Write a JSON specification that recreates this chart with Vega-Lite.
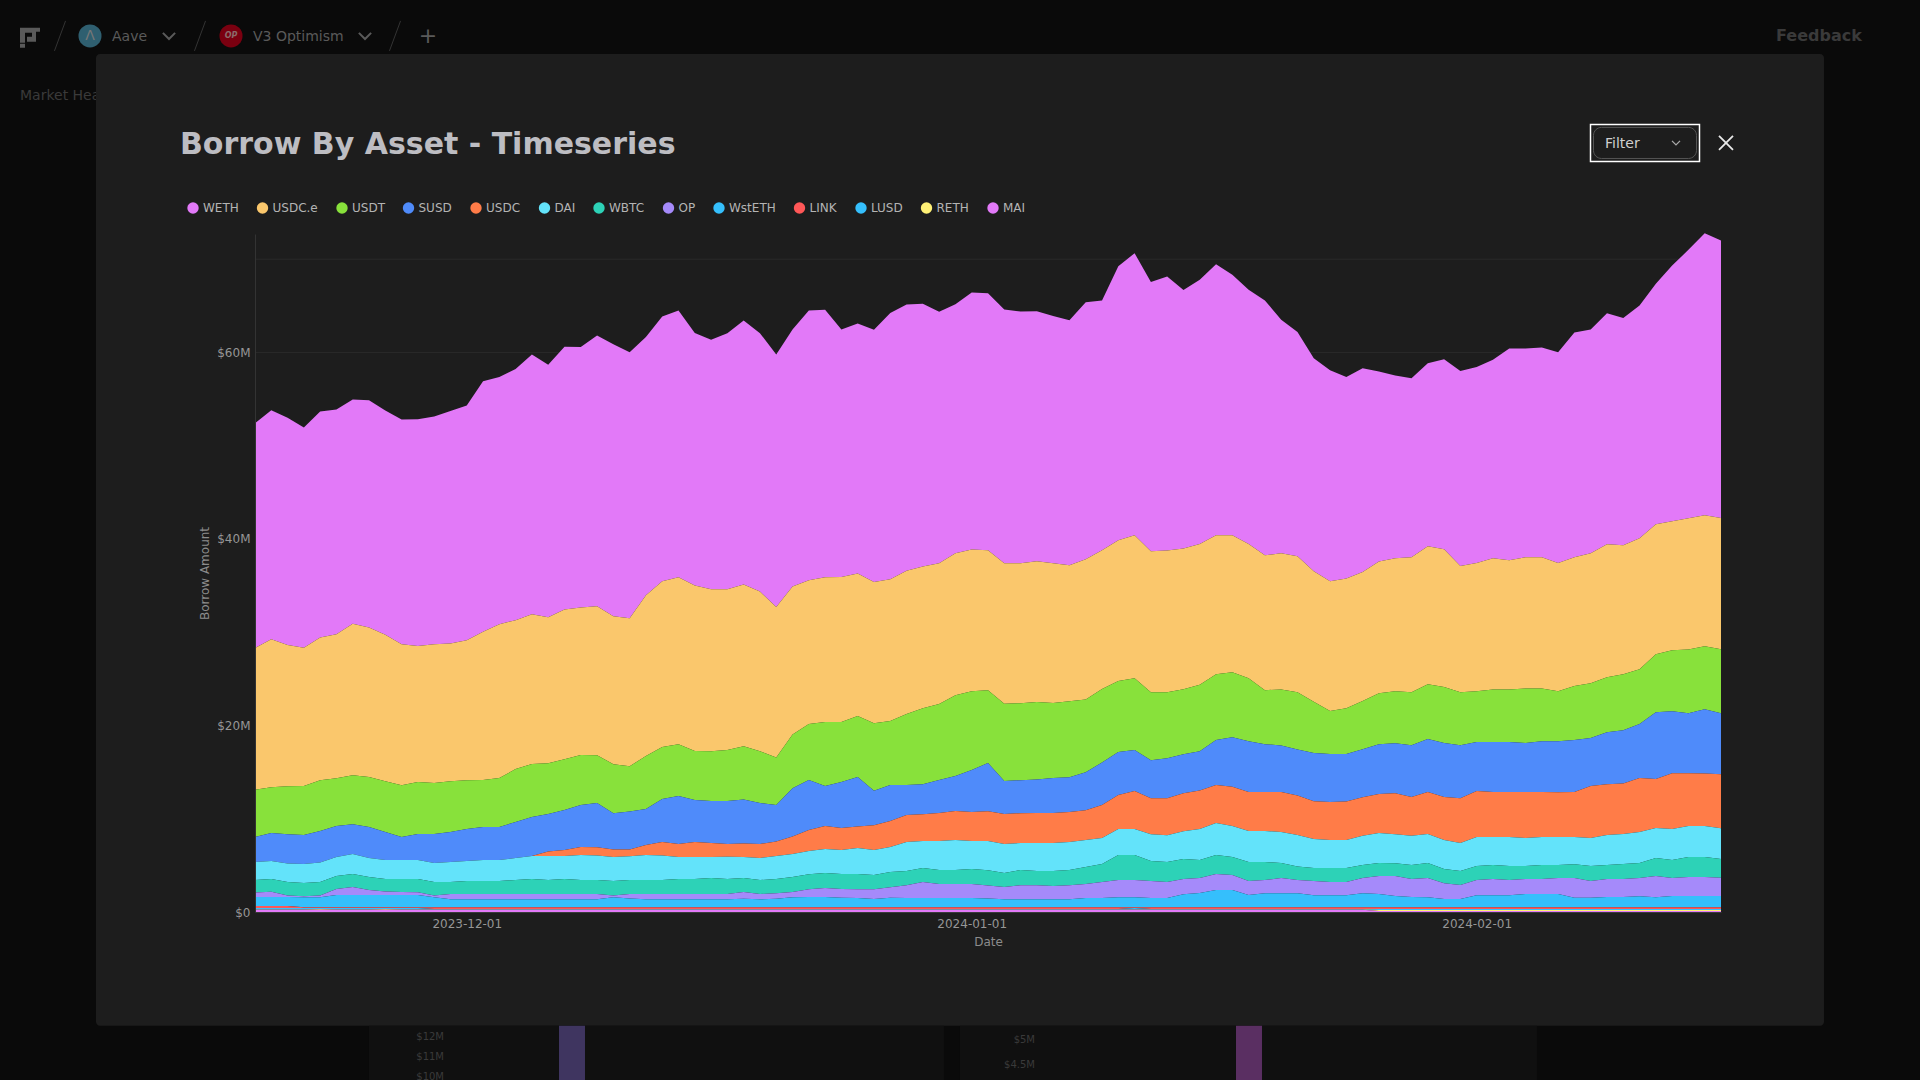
{"$schema":"https://vega.github.io/schema/vega-lite/v6.json","width":1466,"height":678,"autosize":{"type":"none"},"padding":{"left":255,"top":234,"right":199,"bottom":168},"background":"#0a0a0a",
"title":{"text":"Borrow By Asset - Timeseries","anchor":"start","frame":"group","dx":-75,"offset":-141,"fontSize":30,"font":"DejaVu Sans","fontWeight":"bold","color":"#bdbdc2"},
"config":{"view":{"stroke":null},"font":"DejaVu Sans"},
"layer":[
{"data":{"values":[{}]},"mark":{"type":"text","align":"left","baseline":"middle","fontSize":14,"color":"#5a5a5a"},"encoding":{"x":{"datum":1699507095682,"type":"temporal"},"y":{"datum":93.85,"type":"quantitative"},"text":{"value":"Aave"}}},
{"data":{"values":[{}]},"mark":{"type":"text","align":"left","baseline":"middle","fontSize":14,"color":"#5a5a5a"},"encoding":{"x":{"datum":1700254991548,"type":"temporal"},"y":{"datum":93.85,"type":"quantitative"},"text":{"value":"V3 Optimism"}}},
{"data":{"values":[{}]},"mark":{"type":"text","align":"left","baseline":"middle","fontSize":16,"fontWeight":"bold","color":"#3a3a3a"},"encoding":{"x":{"datum":1708333327746,"type":"temporal"},"y":{"datum":93.94,"type":"quantitative"},"text":{"value":"Feedback"}}},
{"data":{"values":[{}]},"mark":{"type":"text","align":"left","baseline":"middle","fontSize":14,"color":"#3a3a3a"},"encoding":{"x":{"datum":1699019106890,"type":"temporal"},"y":{"datum":87.5,"type":"quantitative"},"text":{"value":"Market Health"}}},
{"data":{"values":[{}]},"mark":{"type":"text","align":"center","baseline":"middle","fontSize":22,"color":"#5a5a5a"},"encoding":{"x":{"datum":1701183231098,"type":"temporal"},"y":{"datum":93.94,"type":"quantitative"},"text":{"value":"+"}}},
{"data":{"values":[{}]},"mark":{"type":"point","filled":true,"size":400,"shape":"M-1,-1H1V-0.6H0.6V0.4H-0.3V-0.1H0.2V-0.5H-0.5V0.5H-1Z M-1,0.6H-0.5V1H-1Z","color":"#5a5a5a","opacity":1},"encoding":{"x":{"datum":1699072149150,"type":"temporal"},"y":{"datum":93.73,"type":"quantitative"}}},
{"data":{"values":[{}]},"mark":{"type":"point","filled":true,"size":530,"shape":"circle","color":"#2f5f70","opacity":1},"encoding":{"x":{"datum":1699390402710,"type":"temporal"},"y":{"datum":93.94,"type":"quantitative"}}},
{"data":{"values":[{}]},"mark":{"type":"point","filled":true,"size":530,"shape":"circle","color":"#7a0010","opacity":1},"encoding":{"x":{"datum":1700138298576,"type":"temporal"},"y":{"datum":93.94,"type":"quantitative"}}},
{"data":{"values":[{}]},"mark":{"type":"text","align":"center","baseline":"middle","fontSize":14,"color":"#777777"},"encoding":{"x":{"datum":1699390402710,"type":"temporal"},"y":{"datum":93.94,"type":"quantitative"},"text":{"value":"Λ"}}},
{"data":{"values":[{}]},"mark":{"type":"text","align":"center","baseline":"middle","fontSize":8,"fontStyle":"italic","fontWeight":"bold","color":"#8a6a6a"},"encoding":{"x":{"datum":1700138298576,"type":"temporal"},"y":{"datum":93.94,"type":"quantitative"},"text":{"value":"OP"}}},
{"data":{"values":[{"t":1699809436564},{"t":1700849064860}]},"mark":{"type":"point","filled":false,"size":150,"strokeWidth":2,"shape":"M-1,-0.5L0,0.5L1,-0.5","color":"#5a5a5a","opacity":1},"encoding":{"x":{"field":"t","type":"temporal"},"y":{"datum":93.94,"type":"quantitative"}}},
{"data":{"values":[{"t":1699231275930},{"t":1699973867570},{"t":1701008191640}]},"mark":{"type":"point","filled":false,"size":900,"strokeWidth":1,"shape":"M0.37,-1L-0.37,1","color":"#333333","opacity":1},"encoding":{"x":{"field":"t","type":"temporal"},"y":{"datum":93.94,"type":"quantitative"}}},
{"data":{"values":[{}]},"mark":{"type":"rect","color":"#1d1d1d","cornerRadius":4},"encoding":{"x":{"datum":1699422228066,"type":"temporal"},"x2":{"datum":1708587930594},"y":{"datum":92.0,"type":"quantitative"},"y2":{"datum":-12.2}}},
{"data":{"values":[{}]},"mark":{"type":"rect","color":"#101010"},"encoding":{"x":{"datum":1700870281764,"type":"temporal"},"x2":{"datum":1703920211714},"y":{"datum":-12.2,"type":"quantitative"},"y2":{"datum":-19}}},
{"data":{"values":[{}]},"mark":{"type":"rect","color":"#101010"},"encoding":{"x":{"datum":1704005079330,"type":"temporal"},"x2":{"datum":1707065617732},"y":{"datum":-12.2,"type":"quantitative"},"y2":{"datum":-19}}},
{"data":{"values":[{}]},"mark":{"type":"rect","color":"#3f3560"},"encoding":{"x":{"datum":1701878084704,"type":"temporal"},"x2":{"datum":1702015994580},"y":{"datum":-12.2,"type":"quantitative"},"y2":{"datum":-19}}},
{"data":{"values":[{}]},"mark":{"type":"rect","color":"#5a2f62"},"encoding":{"x":{"datum":1705469045706,"type":"temporal"},"x2":{"datum":1705606955582},"y":{"datum":-12.2,"type":"quantitative"},"y2":{"datum":-19}}},
{"data":{"values":[{}]},"mark":{"type":"text","align":"right","baseline":"middle","fontSize":10,"color":"#3a3a3a"},"encoding":{"x":{"datum":1701268098714,"type":"temporal"},"y":{"datum":-13.4,"type":"quantitative"},"text":{"value":"$12M"}}},
{"data":{"values":[{}]},"mark":{"type":"text","align":"right","baseline":"middle","fontSize":10,"color":"#3a3a3a"},"encoding":{"x":{"datum":1701268098714,"type":"temporal"},"y":{"datum":-15.55,"type":"quantitative"},"text":{"value":"$11M"}}},
{"data":{"values":[{}]},"mark":{"type":"text","align":"right","baseline":"middle","fontSize":10,"color":"#3a3a3a"},"encoding":{"x":{"datum":1701268098714,"type":"temporal"},"y":{"datum":-17.69,"type":"quantitative"},"text":{"value":"$10M"}}},
{"data":{"values":[{}]},"mark":{"type":"text","align":"right","baseline":"middle","fontSize":10,"color":"#3a3a3a"},"encoding":{"x":{"datum":1704402896280,"type":"temporal"},"y":{"datum":-13.73,"type":"quantitative"},"text":{"value":"$5M"}}},
{"data":{"values":[{}]},"mark":{"type":"text","align":"right","baseline":"middle","fontSize":10,"color":"#3a3a3a"},"encoding":{"x":{"datum":1704402896280,"type":"temporal"},"y":{"datum":-16.41,"type":"quantitative"},"text":{"value":"$4.5M"}}},
{"data":{"values":[{"v":10},{"v":20},{"v":30},{"v":40},{"v":50},{"v":60},{"v":70}]},"mark":{"type":"rule","color":"#2a2a2a","strokeWidth":1},"encoding":{"y":{"field":"v","type":"quantitative"}}},
{"data":{"values":[
{"d":"2023-11-18","WETH":24.11,"USDCe":15.21,"USDT":5.07,"SUSD":2.68,"USDC":0,"DAI":1.93,"WBTC":1.32,"OP":0.5,"WstETH":0.96,"LINK":0.22,"LUSD":0.15,"RETH":0.02,"MAI":0.25},
{"d":"2023-11-19","WETH":24.54,"USDCe":15.86,"USDT":4.93,"SUSD":3.0,"USDC":0,"DAI":1.93,"WBTC":1.36,"OP":0.57,"WstETH":0.96,"LINK":0.22,"LUSD":0.15,"RETH":0.02,"MAI":0.25},
{"d":"2023-11-20","WETH":24.36,"USDCe":15.14,"USDT":5.14,"SUSD":3.14,"USDC":0,"DAI":2.0,"WBTC":1.43,"OP":0.18,"WstETH":0.96,"LINK":0.22,"LUSD":0.15,"RETH":0.02,"MAI":0.25},
{"d":"2023-11-21","WETH":23.61,"USDCe":14.82,"USDT":5.25,"SUSD":3.11,"USDC":0,"DAI":2.04,"WBTC":1.43,"OP":0.11,"WstETH":1.07,"LINK":0.08,"LUSD":0.15,"RETH":0.02,"MAI":0.25},
{"d":"2023-11-22","WETH":24.25,"USDCe":15.29,"USDT":5.46,"SUSD":3.36,"USDC":0,"DAI":2.11,"WBTC":1.43,"OP":0.21,"WstETH":1.07,"LINK":0.08,"LUSD":0.09,"RETH":0.08,"MAI":0.25},
{"d":"2023-11-23","WETH":24.11,"USDCe":15.43,"USDT":5.14,"SUSD":3.32,"USDC":0,"DAI":2.04,"WBTC":1.39,"OP":0.64,"WstETH":1.32,"LINK":0.08,"LUSD":0.15,"RETH":0.02,"MAI":0.25},
{"d":"2023-11-24","WETH":24.04,"USDCe":16.25,"USDT":5.25,"SUSD":3.21,"USDC":0,"DAI":2.14,"WBTC":1.39,"OP":0.86,"WstETH":1.32,"LINK":0.08,"LUSD":0.15,"RETH":0.02,"MAI":0.25},
{"d":"2023-11-25","WETH":24.36,"USDCe":16.04,"USDT":5.36,"SUSD":3.32,"USDC":0,"DAI":2.04,"WBTC":1.39,"OP":0.54,"WstETH":1.32,"LINK":0.08,"LUSD":0.15,"RETH":0.02,"MAI":0.25},
{"d":"2023-11-26","WETH":24.04,"USDCe":15.71,"USDT":5.46,"SUSD":3.0,"USDC":0,"DAI":2.04,"WBTC":1.32,"OP":0.39,"WstETH":1.32,"LINK":0.08,"LUSD":0.09,"RETH":0.08,"MAI":0.25},
{"d":"2023-11-27","WETH":24.11,"USDCe":15.11,"USDT":5.57,"SUSD":2.46,"USDC":0,"DAI":2.04,"WBTC":1.39,"OP":0.32,"WstETH":1.32,"LINK":0.08,"LUSD":0.15,"RETH":0.02,"MAI":0.25},
{"d":"2023-11-28","WETH":24.32,"USDCe":14.57,"USDT":5.57,"SUSD":2.79,"USDC":0,"DAI":2.04,"WBTC":1.43,"OP":0.29,"WstETH":1.32,"LINK":0.08,"LUSD":0.15,"RETH":0.02,"MAI":0.25},
{"d":"2023-11-29","WETH":24.43,"USDCe":14.89,"USDT":5.46,"SUSD":3.11,"USDC":0,"DAI":2.04,"WBTC":1.43,"OP":0.21,"WstETH":1.07,"LINK":0.18,"LUSD":0.05,"RETH":0.02,"MAI":0.25},
{"d":"2023-11-30","WETH":24.93,"USDCe":14.75,"USDT":5.46,"SUSD":3.21,"USDC":0,"DAI":2.14,"WBTC":1.29,"OP":0.57,"WstETH":0.86,"LINK":0.18,"LUSD":0.05,"RETH":0.02,"MAI":0.25},
{"d":"2023-12-01","WETH":25.18,"USDCe":15.0,"USDT":5.25,"SUSD":3.43,"USDC":0,"DAI":2.14,"WBTC":1.39,"OP":0.57,"WstETH":0.86,"LINK":0.18,"LUSD":0.05,"RETH":0.02,"MAI":0.25},
{"d":"2023-12-02","WETH":26.86,"USDCe":15.89,"USDT":5.04,"SUSD":3.54,"USDC":0,"DAI":2.25,"WBTC":1.39,"OP":0.57,"WstETH":0.86,"LINK":0.18,"LUSD":0.05,"RETH":0.02,"MAI":0.25},
{"d":"2023-12-03","WETH":26.5,"USDCe":16.5,"USDT":5.25,"SUSD":3.54,"USDC":0,"DAI":2.25,"WBTC":1.39,"OP":0.57,"WstETH":0.86,"LINK":0.18,"LUSD":0.05,"RETH":0.02,"MAI":0.25},
{"d":"2023-12-04","WETH":26.93,"USDCe":15.96,"USDT":5.68,"SUSD":3.86,"USDC":0,"DAI":2.36,"WBTC":1.5,"OP":0.57,"WstETH":0.86,"LINK":0.18,"LUSD":0.05,"RETH":0.02,"MAI":0.25},
{"d":"2023-12-05","WETH":27.86,"USDCe":16.07,"USDT":5.68,"SUSD":4.18,"USDC":0,"DAI":2.46,"WBTC":1.61,"OP":0.57,"WstETH":0.86,"LINK":0.18,"LUSD":0.05,"RETH":0.02,"MAI":0.25},
{"d":"2023-12-06","WETH":27.07,"USDCe":15.64,"USDT":5.46,"SUSD":4.0,"USDC":0.5,"DAI":2.57,"WBTC":1.5,"OP":0.57,"WstETH":0.86,"LINK":0.18,"LUSD":0.05,"RETH":0.02,"MAI":0.25},
{"d":"2023-12-07","WETH":28.18,"USDCe":16.04,"USDT":5.46,"SUSD":4.29,"USDC":0.64,"DAI":2.46,"WBTC":1.61,"OP":0.57,"WstETH":0.86,"LINK":0.18,"LUSD":0.05,"RETH":0.02,"MAI":0.25},
{"d":"2023-12-08","WETH":27.93,"USDCe":15.82,"USDT":5.36,"SUSD":4.5,"USDC":0.86,"DAI":2.68,"WBTC":1.5,"OP":0.57,"WstETH":0.86,"LINK":0.18,"LUSD":0.05,"RETH":0.02,"MAI":0.25},
{"d":"2023-12-09","WETH":29.04,"USDCe":15.96,"USDT":5.14,"SUSD":4.75,"USDC":0.86,"DAI":2.64,"WBTC":1.5,"OP":0.57,"WstETH":0.86,"LINK":0.18,"LUSD":0.05,"RETH":0.02,"MAI":0.25},
{"d":"2023-12-10","WETH":29.18,"USDCe":15.86,"USDT":5.25,"SUSD":3.89,"USDC":0.82,"DAI":2.57,"WBTC":1.54,"OP":0.21,"WstETH":1.07,"LINK":0.18,"LUSD":0.05,"RETH":0.02,"MAI":0.25},
{"d":"2023-12-11","WETH":28.54,"USDCe":15.86,"USDT":4.86,"SUSD":4.07,"USDC":0.71,"DAI":2.57,"WBTC":1.5,"OP":0.46,"WstETH":0.96,"LINK":0.18,"LUSD":0.05,"RETH":0.02,"MAI":0.25},
{"d":"2023-12-12","WETH":27.68,"USDCe":17.25,"USDT":5.68,"SUSD":3.86,"USDC":1.07,"DAI":2.68,"WBTC":1.5,"OP":0.57,"WstETH":0.86,"LINK":0.18,"LUSD":0.05,"RETH":0.02,"MAI":0.25},
{"d":"2023-12-13","WETH":28.39,"USDCe":17.79,"USDT":5.57,"SUSD":4.61,"USDC":1.43,"DAI":2.64,"WBTC":1.5,"OP":0.57,"WstETH":0.86,"LINK":0.18,"LUSD":0.05,"RETH":0.02,"MAI":0.25},
{"d":"2023-12-14","WETH":28.61,"USDCe":17.89,"USDT":5.57,"SUSD":5.14,"USDC":1.39,"DAI":2.36,"WBTC":1.61,"OP":0.57,"WstETH":0.86,"LINK":0.18,"LUSD":0.05,"RETH":0.02,"MAI":0.25},
{"d":"2023-12-15","WETH":27.07,"USDCe":17.75,"USDT":5.25,"SUSD":4.5,"USDC":1.61,"DAI":2.36,"WBTC":1.61,"OP":0.57,"WstETH":0.86,"LINK":0.18,"LUSD":0.05,"RETH":0.02,"MAI":0.25},
{"d":"2023-12-16","WETH":26.75,"USDCe":17.36,"USDT":5.36,"SUSD":4.5,"USDC":1.5,"DAI":2.25,"WBTC":1.71,"OP":0.57,"WstETH":0.86,"LINK":0.18,"LUSD":0.05,"RETH":0.02,"MAI":0.25},
{"d":"2023-12-17","WETH":27.46,"USDCe":17.25,"USDT":5.46,"SUSD":4.61,"USDC":1.36,"DAI":2.39,"WBTC":1.61,"OP":0.57,"WstETH":0.86,"LINK":0.18,"LUSD":0.05,"RETH":0.02,"MAI":0.25},
{"d":"2023-12-18","WETH":28.29,"USDCe":17.36,"USDT":5.71,"SUSD":4.71,"USDC":1.46,"DAI":2.25,"WBTC":1.5,"OP":0.71,"WstETH":0.93,"LINK":0.18,"LUSD":0.05,"RETH":0.02,"MAI":0.25},
{"d":"2023-12-19","WETH":27.71,"USDCe":17.11,"USDT":5.57,"SUSD":4.39,"USDC":1.5,"DAI":2.36,"WBTC":1.5,"OP":0.57,"WstETH":0.86,"LINK":0.18,"LUSD":0.05,"RETH":0.02,"MAI":0.25},
{"d":"2023-12-20","WETH":27.07,"USDCe":16.14,"USDT":5.11,"SUSD":3.89,"USDC":1.57,"DAI":2.46,"WBTC":1.54,"OP":0.57,"WstETH":0.93,"LINK":0.18,"LUSD":0.05,"RETH":0.02,"MAI":0.25},
{"d":"2023-12-21","WETH":27.57,"USDCe":15.86,"USDT":5.75,"SUSD":5.18,"USDC":1.89,"DAI":2.46,"WBTC":1.61,"OP":0.57,"WstETH":1.07,"LINK":0.18,"LUSD":0.05,"RETH":0.02,"MAI":0.25},
{"d":"2023-12-22","WETH":28.93,"USDCe":15.43,"USDT":6.0,"SUSD":5.36,"USDC":2.25,"DAI":2.5,"WBTC":1.61,"OP":0.82,"WstETH":1.11,"LINK":0.18,"LUSD":0.05,"RETH":0.02,"MAI":0.25},
{"d":"2023-12-23","WETH":28.68,"USDCe":15.54,"USDT":6.86,"SUSD":4.29,"USDC":2.46,"DAI":2.57,"WBTC":1.61,"OP":0.96,"WstETH":1.11,"LINK":0.18,"LUSD":0.05,"RETH":0.02,"MAI":0.25},
{"d":"2023-12-24","WETH":26.54,"USDCe":15.54,"USDT":6.43,"SUSD":4.93,"USDC":2.36,"DAI":2.57,"WBTC":1.61,"OP":0.93,"WstETH":1.04,"LINK":0.18,"LUSD":0.05,"RETH":0.02,"MAI":0.25},
{"d":"2023-12-25","WETH":26.79,"USDCe":15.29,"USDT":6.54,"SUSD":5.29,"USDC":2.32,"DAI":2.79,"WBTC":1.64,"OP":0.93,"WstETH":1.0,"LINK":0.18,"LUSD":0.05,"RETH":0.02,"MAI":0.25},
{"d":"2023-12-26","WETH":27.04,"USDCe":15.14,"USDT":7.25,"SUSD":3.71,"USDC":2.64,"DAI":2.68,"WBTC":1.54,"OP":1.04,"WstETH":0.89,"LINK":0.18,"LUSD":0.05,"RETH":0.02,"MAI":0.25},
{"d":"2023-12-27","WETH":28.54,"USDCe":15.21,"USDT":6.86,"SUSD":3.86,"USDC":2.79,"DAI":2.68,"WBTC":1.64,"OP":1.11,"WstETH":1.04,"LINK":0.18,"LUSD":0.05,"RETH":0.02,"MAI":0.25},
{"d":"2023-12-28","WETH":28.57,"USDCe":15.36,"USDT":7.61,"SUSD":3.21,"USDC":2.89,"DAI":3.11,"WBTC":1.54,"OP":1.36,"WstETH":1.0,"LINK":0.18,"LUSD":0.05,"RETH":0.02,"MAI":0.25},
{"d":"2023-12-29","WETH":28.18,"USDCe":15.21,"USDT":8.14,"SUSD":3.21,"USDC":2.89,"DAI":2.89,"WBTC":1.5,"OP":1.71,"WstETH":1.0,"LINK":0.18,"LUSD":0.05,"RETH":0.02,"MAI":0.25},
{"d":"2023-12-30","WETH":26.96,"USDCe":15.11,"USDT":8.14,"SUSD":3.54,"USDC":3.0,"DAI":3.11,"WBTC":1.5,"OP":1.5,"WstETH":1.0,"LINK":0.18,"LUSD":0.05,"RETH":0.02,"MAI":0.25},
{"d":"2023-12-31","WETH":26.71,"USDCe":15.21,"USDT":8.68,"SUSD":3.75,"USDC":3.11,"DAI":3.21,"WBTC":1.5,"OP":1.5,"WstETH":1.0,"LINK":0.18,"LUSD":0.05,"RETH":0.02,"MAI":0.25},
{"d":"2024-01-01","WETH":27.57,"USDCe":15.18,"USDT":8.46,"SUSD":4.5,"USDC":3.11,"DAI":3.0,"WBTC":1.61,"OP":1.5,"WstETH":1.0,"LINK":0.18,"LUSD":0.05,"RETH":0.02,"MAI":0.25},
{"d":"2024-01-02","WETH":27.57,"USDCe":15.0,"USDT":7.79,"SUSD":5.18,"USDC":3.21,"DAI":3.11,"WBTC":1.64,"OP":1.39,"WstETH":0.96,"LINK":0.18,"LUSD":0.05,"RETH":0.02,"MAI":0.25},
{"d":"2024-01-03","WETH":27.21,"USDCe":15.07,"USDT":8.29,"SUSD":3.54,"USDC":3.21,"DAI":3.11,"WBTC":1.5,"OP":1.32,"WstETH":0.86,"LINK":0.18,"LUSD":0.05,"RETH":0.02,"MAI":0.25},
{"d":"2024-01-04","WETH":27.0,"USDCe":15.0,"USDT":8.25,"SUSD":3.54,"USDC":3.21,"DAI":2.89,"WBTC":1.64,"OP":1.5,"WstETH":0.86,"LINK":0.18,"LUSD":0.05,"RETH":0.02,"MAI":0.25},
{"d":"2024-01-05","WETH":26.79,"USDCe":15.11,"USDT":8.29,"SUSD":3.61,"USDC":3.21,"DAI":3.0,"WBTC":1.54,"OP":1.5,"WstETH":0.86,"LINK":0.18,"LUSD":0.05,"RETH":0.02,"MAI":0.25},
{"d":"2024-01-06","WETH":26.5,"USDCe":15.0,"USDT":8.04,"SUSD":3.75,"USDC":3.21,"DAI":3.0,"WBTC":1.61,"OP":1.43,"WstETH":0.86,"LINK":0.18,"LUSD":0.05,"RETH":0.02,"MAI":0.25},
{"d":"2024-01-07","WETH":26.29,"USDCe":14.57,"USDT":8.14,"SUSD":3.75,"USDC":3.21,"DAI":3.0,"WBTC":1.64,"OP":1.5,"WstETH":0.86,"LINK":0.18,"LUSD":0.05,"RETH":0.02,"MAI":0.25},
{"d":"2024-01-08","WETH":27.57,"USDCe":15.04,"USDT":7.79,"SUSD":4.07,"USDC":3.21,"DAI":2.89,"WBTC":1.82,"OP":1.5,"WstETH":1.0,"LINK":0.18,"LUSD":0.05,"RETH":0.02,"MAI":0.25},
{"d":"2024-01-09","WETH":26.79,"USDCe":14.89,"USDT":7.86,"SUSD":4.57,"USDC":3.54,"DAI":2.79,"WBTC":1.93,"OP":1.71,"WstETH":1.0,"LINK":0.18,"LUSD":0.05,"RETH":0.02,"MAI":0.25},
{"d":"2024-01-10","WETH":29.36,"USDCe":15.11,"USDT":7.61,"SUSD":4.61,"USDC":3.64,"DAI":2.79,"WBTC":2.68,"OP":1.86,"WstETH":1.07,"LINK":0.18,"LUSD":0.05,"RETH":0.02,"MAI":0.25},
{"d":"2024-01-11","WETH":30.25,"USDCe":15.32,"USDT":7.71,"SUSD":4.39,"USDC":4.07,"DAI":2.79,"WBTC":2.68,"OP":1.86,"WstETH":1.07,"LINK":0.08,"LUSD":0.15,"RETH":0.02,"MAI":0.25},
{"d":"2024-01-12","WETH":28.86,"USDCe":15.11,"USDT":7.29,"SUSD":4.07,"USDC":3.86,"DAI":2.89,"WBTC":2.14,"OP":1.82,"WstETH":1.0,"LINK":0.18,"LUSD":0.05,"RETH":0.02,"MAI":0.25},
{"d":"2024-01-13","WETH":29.36,"USDCe":15.21,"USDT":7.07,"SUSD":4.29,"USDC":3.96,"DAI":2.89,"WBTC":2.14,"OP":1.71,"WstETH":1.0,"LINK":0.18,"LUSD":0.05,"RETH":0.02,"MAI":0.25},
{"d":"2024-01-14","WETH":27.71,"USDCe":15.11,"USDT":6.96,"SUSD":4.18,"USDC":4.07,"DAI":3.0,"WBTC":2.14,"OP":1.64,"WstETH":1.39,"LINK":0.18,"LUSD":0.05,"RETH":0.02,"MAI":0.25},
{"d":"2024-01-15","WETH":28.32,"USDCe":15.11,"USDT":7.11,"SUSD":4.21,"USDC":4.14,"DAI":3.32,"WBTC":1.93,"OP":1.61,"WstETH":1.54,"LINK":0.18,"LUSD":0.05,"RETH":0.02,"MAI":0.25},
{"d":"2024-01-16","WETH":29.07,"USDCe":14.89,"USDT":7.07,"SUSD":4.82,"USDC":4.07,"DAI":3.43,"WBTC":2.04,"OP":1.71,"WstETH":1.86,"LINK":0.18,"LUSD":0.05,"RETH":0.02,"MAI":0.25},
{"d":"2024-01-17","WETH":27.93,"USDCe":14.68,"USDT":6.96,"SUSD":5.32,"USDC":4.21,"DAI":3.32,"WBTC":1.93,"OP":1.61,"WstETH":1.86,"LINK":0.18,"LUSD":0.05,"RETH":0.02,"MAI":0.25},
{"d":"2024-01-18","WETH":27.25,"USDCe":14.39,"USDT":6.75,"SUSD":5.46,"USDC":4.18,"DAI":3.32,"WBTC":2.04,"OP":1.5,"WstETH":1.32,"LINK":0.18,"LUSD":0.05,"RETH":0.02,"MAI":0.25},
{"d":"2024-01-19","WETH":27.32,"USDCe":14.46,"USDT":5.79,"SUSD":5.14,"USDC":4.18,"DAI":3.32,"WBTC":1.93,"OP":1.43,"WstETH":1.5,"LINK":0.18,"LUSD":0.05,"RETH":0.02,"MAI":0.25},
{"d":"2024-01-20","WETH":25.04,"USDCe":14.61,"USDT":6.0,"SUSD":5.0,"USDC":4.29,"DAI":3.32,"WBTC":1.61,"OP":1.64,"WstETH":1.5,"LINK":0.18,"LUSD":0.05,"RETH":0.02,"MAI":0.25},
{"d":"2024-01-21","WETH":24.04,"USDCe":14.57,"USDT":6.14,"SUSD":4.93,"USDC":4.25,"DAI":3.36,"WBTC":1.46,"OP":1.43,"WstETH":1.5,"LINK":0.18,"LUSD":0.05,"RETH":0.02,"MAI":0.25},
{"d":"2024-01-22","WETH":22.82,"USDCe":14.0,"USDT":5.5,"SUSD":5.18,"USDC":4.04,"DAI":3.11,"WBTC":1.39,"OP":1.54,"WstETH":1.29,"LINK":0.18,"LUSD":0.05,"RETH":0.02,"MAI":0.25},
{"d":"2024-01-23","WETH":22.61,"USDCe":13.93,"USDT":4.61,"SUSD":5.14,"USDC":4.07,"DAI":3.0,"WBTC":1.5,"OP":1.43,"WstETH":1.29,"LINK":0.18,"LUSD":0.05,"RETH":0.02,"MAI":0.25},
{"d":"2024-01-24","WETH":21.61,"USDCe":13.89,"USDT":4.93,"SUSD":5.07,"USDC":4.14,"DAI":3.0,"WBTC":1.5,"OP":1.43,"WstETH":1.29,"LINK":0.18,"LUSD":0.05,"RETH":0.02,"MAI":0.25},
{"d":"2024-01-25","WETH":21.86,"USDCe":13.82,"USDT":5.18,"SUSD":5.14,"USDC":4.14,"DAI":3.14,"WBTC":1.39,"OP":1.64,"WstETH":1.5,"LINK":0.18,"LUSD":0.05,"RETH":0.02,"MAI":0.25},
{"d":"2024-01-26","WETH":20.39,"USDCe":14.11,"USDT":5.46,"SUSD":5.36,"USDC":4.18,"DAI":3.21,"WBTC":1.39,"OP":1.93,"WstETH":1.43,"LINK":0.18,"LUSD":0.1,"RETH":0.1,"MAI":0.12},
{"d":"2024-01-27","WETH":19.61,"USDCe":14.25,"USDT":5.57,"SUSD":5.36,"USDC":4.39,"DAI":3.11,"WBTC":1.39,"OP":2.14,"WstETH":1.21,"LINK":0.18,"LUSD":0.1,"RETH":0.1,"MAI":0.12},
{"d":"2024-01-28","WETH":19.21,"USDCe":14.46,"USDT":5.68,"SUSD":5.57,"USDC":4.14,"DAI":3.14,"WBTC":1.5,"OP":1.93,"WstETH":1.11,"LINK":0.18,"LUSD":0.1,"RETH":0.1,"MAI":0.12},
{"d":"2024-01-29","WETH":19.61,"USDCe":14.79,"USDT":5.89,"SUSD":5.68,"USDC":4.5,"DAI":3.11,"WBTC":1.61,"OP":2.07,"WstETH":1.07,"LINK":0.18,"LUSD":0.1,"RETH":0.1,"MAI":0.12},
{"d":"2024-01-30","WETH":20.36,"USDCe":14.79,"USDT":6.0,"SUSD":5.79,"USDC":4.61,"DAI":3.11,"WBTC":1.54,"OP":1.68,"WstETH":0.89,"LINK":0.18,"LUSD":0.1,"RETH":0.1,"MAI":0.12},
{"d":"2024-01-31","WETH":20.89,"USDCe":13.54,"USDT":5.68,"SUSD":5.68,"USDC":4.82,"DAI":3.0,"WBTC":1.5,"OP":1.5,"WstETH":0.89,"LINK":0.18,"LUSD":0.1,"RETH":0.1,"MAI":0.12},
{"d":"2024-02-01","WETH":21.0,"USDCe":13.75,"USDT":5.46,"SUSD":5.25,"USDC":4.93,"DAI":3.11,"WBTC":1.5,"OP":1.64,"WstETH":1.29,"LINK":0.18,"LUSD":0.1,"RETH":0.1,"MAI":0.12},
{"d":"2024-02-02","WETH":21.29,"USDCe":14.07,"USDT":5.64,"SUSD":5.36,"USDC":4.82,"DAI":3.0,"WBTC":1.5,"OP":1.75,"WstETH":1.29,"LINK":0.18,"LUSD":0.1,"RETH":0.1,"MAI":0.12},
{"d":"2024-02-03","WETH":22.71,"USDCe":13.86,"USDT":5.64,"SUSD":5.36,"USDC":4.82,"DAI":3.11,"WBTC":1.5,"OP":1.64,"WstETH":1.29,"LINK":0.18,"LUSD":0.1,"RETH":0.1,"MAI":0.12},
{"d":"2024-02-04","WETH":22.39,"USDCe":14.07,"USDT":5.86,"SUSD":5.25,"USDC":4.93,"DAI":3.0,"WBTC":1.39,"OP":1.61,"WstETH":1.43,"LINK":0.18,"LUSD":0.1,"RETH":0.1,"MAI":0.12},
{"d":"2024-02-05","WETH":22.5,"USDCe":14.07,"USDT":5.64,"SUSD":5.46,"USDC":4.82,"DAI":3.0,"WBTC":1.5,"OP":1.61,"WstETH":1.43,"LINK":0.18,"LUSD":0.1,"RETH":0.1,"MAI":0.12},
{"d":"2024-02-06","WETH":22.61,"USDCe":13.75,"USDT":5.36,"SUSD":5.46,"USDC":4.82,"DAI":3.0,"WBTC":1.39,"OP":1.71,"WstETH":1.43,"LINK":0.18,"LUSD":0.1,"RETH":0.1,"MAI":0.12},
{"d":"2024-02-07","WETH":24.11,"USDCe":13.82,"USDT":5.79,"SUSD":5.57,"USDC":4.82,"DAI":2.93,"WBTC":1.46,"OP":2.11,"WstETH":1.04,"LINK":0.18,"LUSD":0.1,"RETH":0.1,"MAI":0.12},
{"d":"2024-02-08","WETH":24.0,"USDCe":13.93,"USDT":5.89,"SUSD":5.14,"USDC":5.57,"DAI":3.0,"WBTC":1.61,"OP":1.79,"WstETH":1.04,"LINK":0.18,"LUSD":0.1,"RETH":0.1,"MAI":0.12},
{"d":"2024-02-09","WETH":24.79,"USDCe":14.25,"USDT":5.89,"SUSD":5.57,"USDC":5.46,"DAI":3.21,"WBTC":1.5,"OP":1.93,"WstETH":1.11,"LINK":0.18,"LUSD":0.1,"RETH":0.1,"MAI":0.12},
{"d":"2024-02-10","WETH":24.36,"USDCe":13.82,"USDT":6.0,"SUSD":5.71,"USDC":5.43,"DAI":3.21,"WBTC":1.61,"OP":1.93,"WstETH":1.11,"LINK":0.18,"LUSD":0.1,"RETH":0.1,"MAI":0.12},
{"d":"2024-02-11","WETH":24.96,"USDCe":14.04,"USDT":5.89,"SUSD":5.79,"USDC":5.79,"DAI":3.32,"WBTC":1.61,"OP":1.96,"WstETH":1.18,"LINK":0.18,"LUSD":0.1,"RETH":0.1,"MAI":0.12},
{"d":"2024-02-12","WETH":25.79,"USDCe":13.93,"USDT":6.21,"SUSD":7.18,"USDC":5.25,"DAI":3.21,"WBTC":1.93,"OP":2.29,"WstETH":1.07,"LINK":0.18,"LUSD":0.1,"RETH":0.1,"MAI":0.12},
{"d":"2024-02-13","WETH":27.43,"USDCe":13.82,"USDT":6.54,"SUSD":6.64,"USDC":6.0,"DAI":3.32,"WBTC":1.93,"OP":1.93,"WstETH":1.21,"LINK":0.18,"LUSD":0.1,"RETH":0.1,"MAI":0.12},
{"d":"2024-02-14","WETH":28.79,"USDCe":14.07,"USDT":6.82,"SUSD":6.43,"USDC":5.68,"DAI":3.32,"WBTC":2.14,"OP":2.04,"WstETH":1.21,"LINK":0.18,"LUSD":0.1,"RETH":0.1,"MAI":0.12},
{"d":"2024-02-15","WETH":30.25,"USDCe":14.04,"USDT":6.75,"SUSD":6.89,"USDC":5.64,"DAI":3.32,"WBTC":2.14,"OP":2.04,"WstETH":1.21,"LINK":0.18,"LUSD":0.1,"RETH":0.1,"MAI":0.12},
{"d":"2024-02-16","WETH":29.75,"USDCe":14.07,"USDT":6.86,"SUSD":6.54,"USDC":5.79,"DAI":3.32,"WBTC":2.0,"OP":1.96,"WstETH":1.21,"LINK":0.18,"LUSD":0.1,"RETH":0.1,"MAI":0.12}
]},
"transform":[{"fold":["WETH","USDCe","USDT","SUSD","USDC","DAI","WBTC","OP","WstETH","LINK","LUSD","RETH","MAI"],"as":["key","amount"]},
{"lookup":"key","from":{"data":{"values":[{"key":"MAI","asset":"MAI","rank":0},{"key":"RETH","asset":"RETH","rank":1},{"key":"LUSD","asset":"LUSD","rank":2},{"key":"LINK","asset":"LINK","rank":3},{"key":"WstETH","asset":"WstETH","rank":4},{"key":"OP","asset":"OP","rank":5},{"key":"WBTC","asset":"WBTC","rank":6},{"key":"DAI","asset":"DAI","rank":7},{"key":"USDC","asset":"USDC","rank":8},{"key":"SUSD","asset":"SUSD","rank":9},{"key":"USDT","asset":"USDT","rank":10},{"key":"USDCe","asset":"USDC.e","rank":11},{"key":"WETH","asset":"WETH","rank":12}]},"key":"key","fields":["asset","rank"]}}],
"mark":{"type":"area","interpolate":"linear"},
"encoding":{
"x":{"field":"d","type":"temporal","title":"Date","scale":{"type":"utc","domain":[1700265600000,1708041600000]},"axis":{"values":[1701388800000,1704067200000,1706745600000],"format":"%Y-%m-%d","grid":false,"zindex":1,"tickSize":0,"labelPadding":6,"labelFontSize":12,"labelColor":"#969696","labelFont":"DejaVu Sans","titleFont":"DejaVu Sans","titleFontSize":12,"titleFontWeight":"normal","titleColor":"#8c8c8c","titlePadding":7,"domainColor":"#3a3a3a","labelFlush":false,"labelOverlap":false}},
"y":{"field":"amount","type":"quantitative","stack":"zero","title":"Borrow Amount","scale":{"domain":[0,72.7],"nice":false},"axis":{"values":[0,20,40,60],"labelExpr":"datum.value==0?'$0':'$'+datum.value+'M'","grid":false,"zindex":1,"tickSize":0,"labelPadding":5,"labelFontSize":12,"labelColor":"#969696","labelFont":"DejaVu Sans","titleFont":"DejaVu Sans","titleFontSize":12,"titleFontWeight":"normal","titleColor":"#8c8c8c","titlePadding":5,"domainColor":"#333333"}},
"color":{"field":"asset","type":"nominal","scale":{"domain":["WETH","USDC.e","USDT","SUSD","USDC","DAI","WBTC","OP","WstETH","LINK","LUSD","RETH","MAI"],"range":["#e279f8","#fac76c","#88e13b","#4f8bfa","#ff7c48","#63e3fa","#2dd2b7","#a58afa","#35bffc","#ff5757","#35bffc","#fff176","#e279f8"]},"legend":{"title":null,"orient":"none","legendX":-68,"legendY":-32,"columns":13,"symbolType":"circle","symbolSize":130,"symbolStrokeWidth":0,"symbolOpacity":1,"labelFontSize":12,"labelFont":"DejaVu Sans","labelColor":"#b4b4b4","labelOffset":4,"columnPadding":17.5,"zindex":1}},
"order":{"field":"rank","type":"quantitative"}}},
{"data":{"values":[{}]},"mark":{"type":"rect","fill":null,"stroke":"#ffffff","strokeWidth":1.5},"encoding":{"x":{"datum":1707349393823,"type":"temporal"},"x2":{"datum":1707927554457},"y":{"datum":84.45,"type":"quantitative"},"y2":{"datum":80.48}}},
{"data":{"values":[{}]},"mark":{"type":"rect","fill":null,"stroke":"#555555","strokeWidth":1,"cornerRadius":8},"encoding":{"x":{"datum":1707365306501,"type":"temporal"},"x2":{"datum":1707911641779},"y":{"datum":84.13,"type":"quantitative"},"y2":{"datum":80.8}}},
{"data":{"values":[{}]},"mark":{"type":"text","align":"left","baseline":"middle","fontSize":14,"color":"#d0d0d0"},"encoding":{"x":{"datum":1707426305100,"type":"temporal"},"y":{"datum":82.37,"type":"quantitative"},"text":{"value":"Filter"}}},
{"data":{"values":[{}]},"mark":{"type":"point","filled":false,"size":64,"strokeWidth":1.3,"shape":"M-1,-0.5L0,0.5L1,-0.5","color":"#aaaaaa","opacity":1},"encoding":{"x":{"datum":1707802905146,"type":"temporal"},"y":{"datum":82.47,"type":"quantitative"}}},
{"data":{"values":[{}]},"mark":{"type":"point","filled":false,"size":196,"strokeWidth":1.8,"shape":"M-1,-1L1,1M-1,1L1,-1","color":"#e8e8e8","opacity":1},"encoding":{"x":{"datum":1708068116446,"type":"temporal"},"y":{"datum":82.47,"type":"quantitative"}}}
]}
